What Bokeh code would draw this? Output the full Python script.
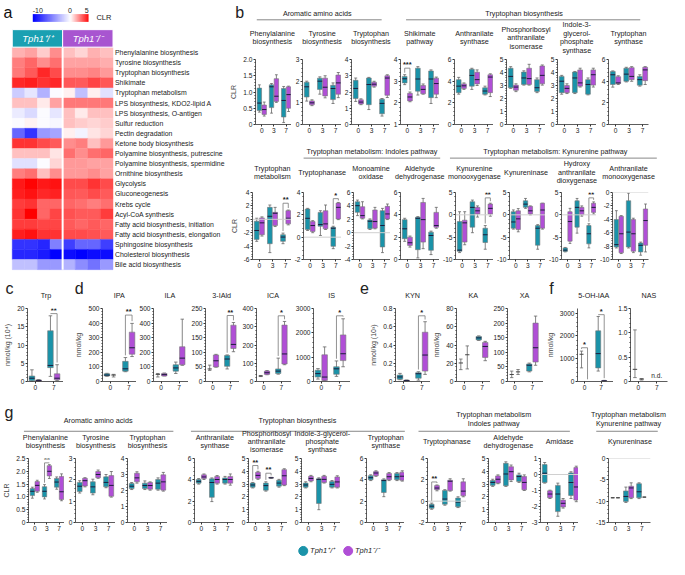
import numpy as np
from bokeh.plotting import figure
from bokeh.models import Range1d, FixedTicker, Span, Label, LinearColorMapper, ColumnDataSource
from bokeh.layouts import row, column
from bokeh.embed import file_html
from bokeh.resources import INLINE
from bokeh.core.properties import value

# ======================= DATA =======================
# ---- panel a: heatmap (CLR) ----
HM_ROWS = ["Phenylalanine  biosynthesis", "Tyrosine biosynthesis", "Tryptophan biosynthesis", "Shikimate",
           "Tryptophan metabolism", "LPS biosynthesis, KDO2-lipid A", "LPS biosynthesis, O-antigen",
           "Sulfur reduction", "Pectin degradation", "Ketone body biosynthesis",
           "Polyamine biosynthesis, putrescine", "Polyamine biosynthesis, spermidine", "Ornithine biosynthesis",
           "Glycolysis", "Gluconeogenesis", "Krebs cycle", "Acyl-CoA synthesis",
           "Fatty acid biosynthesis, initiation", "Fatty acid biosynthesis, elongation",
           "Sphingosine biosynthesis", "Cholesterol biosynthesis", "Bile acid biosynthesis"]
HM_WT = [[1.5, 1.8, 1.0, 2.2], [2.5, 3.0, 2.2, 2.8], [2.6, 3.2, 4.2, 3.5], [4.2, 4.4, 4.0, 4.2],
         [-2.0, -1.0, -3.0, -0.2], [1.2, 1.2, 0.4, 1.8], [-0.8, -1.5, -0.2, -1.0], [-0.2, 0.2, -0.2, -0.3],
         [-6.0, -8.0, -4.0, -3.5], [4.0, 4.0, 3.5, 3.2], [1.2, 1.2, 1.2, 0.5], [-1.2, -1.2, -0.1, 0.8],
         [2.5, 2.8, 1.2, 2.2], [4.5, 4.9, 4.5, 4.6], [4.4, 4.6, 4.2, 4.3], [3.8, 4.0, 3.0, 3.0],
         [4.0, 5.0, 3.0, 3.6], [3.8, 3.8, 3.6, 3.6], [4.4, 4.6, 4.0, 4.0],
         [-8.0, -8.0, -8.5, -5.0], [-8.5, -8.5, -9.0, -10.0], [-2.5, -2.5, -4.0, -4.0]]
HM_KO = [[1.2, 0.8, 1.5, 1.2], [1.8, 1.8, 1.8, 1.6], [2.2, 2.2, 2.4, 2.0], [3.3, 3.2, 3.6, 3.3],
         [0.3, -2.5, 0.3, -1.2], [2.6, 2.6, 2.6, 2.6], [1.2, 0.4, 1.2, 1.2], [1.2, 1.0, 0.8, 1.0],
         [0.3, -0.5, 0.5, 0.8], [2.2, 2.5, 1.2, 2.0], [2.8, 2.2, 2.8, 3.0], [2.0, 2.0, 1.8, 1.8],
         [2.0, 2.0, 2.2, 1.8], [3.5, 3.5, 4.0, 3.5], [3.3, 3.2, 3.5, 3.2], [3.0, 2.8, 2.5, 2.8],
         [3.4, 3.2, 3.2, 3.8], [3.2, 3.0, 3.2, 3.0], [3.5, 3.5, 3.4, 3.2],
         [-7.5, -6.0, -6.0, -7.5], [-9.5, -10.0, -9.5, -9.5], [-3.0, -4.5, -5.5, -4.0]]
CLR_TICKS = [-10, 0, 5]
GENOTYPES = ["Tph1\u207a/\u207a", "Tph1\u207b/\u207b"]

DPI3 = ["0", "3", "7"]
DPI2 = ["0", "7"]

# box stats per panel: (low whisker, q1, median, q3, high whisker) in order
# d0 WT, d0 KO, d3 WT, d3 KO, d7 WT, d7 KO   (q1 == q3 -> whiskers only)
B1 = [
    dict(title="Phenylalanine\nbiosynthesis", yr=(0, 2), yt=[0, 0.5, 1, 1.5, 2], ylabel="CLR",
         stats=[(0.38, 0.43, 0.66, 1.12, 1.22), (0.26, 0.31, 0.46, 0.60, 0.69), (0.35, 0.52, 1.16, 1.22, 1.26),
                (0.68, 0.71, 0.87, 1.41, 1.53), (0.06, 0.23, 0.74, 1.11, 1.17), (0.40, 0.50, 0.92, 1.16, 1.18)], sig=[]),
    dict(title="Tyrosine\nbiosynthesis", yr=(0, 3), yt=[0, 1, 2, 3],
         stats=[(1.08, 1.27, 1.74, 1.95, 2.0), (0.87, 0.91, 1.0, 1.09, 1.14), (1.40, 1.62, 2.0, 2.14, 2.20),
                (1.23, 1.32, 1.72, 2.14, 2.25), (0.97, 1.15, 1.66, 1.81, 1.92), (1.24, 1.40, 1.92, 2.28, 2.40)], sig=[]),
    dict(title="Tryptophan\nbiosynthesis", yr=(0, 4), yt=[0, 1, 2, 3, 4],
         stats=[(1.42, 1.60, 2.22, 2.72, 2.86), (1.22, 1.26, 1.38, 1.52, 1.58), (0.92, 1.22, 2.46, 2.86, 2.90),
                (2.30, 2.36, 2.48, 2.60, 2.66), (0.52, 0.66, 1.30, 1.56, 1.60), (1.66, 1.80, 2.86, 3.00, 3.06)], sig=[]),
    dict(title="Shikimate\npathway", yr=(1, 4), yt=[1, 2, 3, 4],
         stats=[(2.84, 2.92, 3.11, 3.22, 3.30), (2.05, 2.09, 2.27, 2.44, 2.50), (2.36, 2.54, 3.10, 3.60, 3.67),
                (2.40, 2.42, 2.62, 2.80, 2.87), (1.97, 2.24, 3.10, 3.47, 3.52), (2.24, 2.40, 2.89, 3.14, 3.19)],
         sig=[(0, 3.6, "***")]),
    dict(title="Anthranilate\nsynthase", yr=(0, 6), yt=[0, 2, 4, 6],
         stats=[(2.80, 2.94, 3.54, 4.14, 4.35), (3.24, 3.33, 3.57, 3.75, 3.84), (3.24, 3.54, 4.53, 5.10, 5.19),
                (3.60, 3.75, 4.14, 4.83, 5.04), (2.73, 2.79, 3.09, 3.39, 3.54), (2.58, 2.94, 4.38, 4.59, 4.68)], sig=[]),
    dict(title="Phosphoribosyl\nanthranilate\nisomerase", yr=(0, 5), yt=[0, 1, 2, 3, 4, 5],
         stats=[(2.78, 2.83, 3.70, 4.33, 4.45), (2.53, 2.63, 2.88, 3.03, 3.13), (3.03, 3.08, 3.58, 4.03, 4.13),
                (3.03, 3.08, 3.53, 4.33, 4.63), (2.45, 2.53, 2.83, 3.45, 3.58), (3.03, 3.13, 3.78, 4.50, 4.58)], sig=[]),
    dict(title="Indole-3-\nglycerol-\nphosphate\nsynthase", yr=(0, 5), yt=[0, 1, 2, 3, 4, 5],
         stats=[(2.33, 2.45, 3.33, 3.70, 3.78), (2.38, 2.45, 2.78, 3.00, 3.13), (2.38, 2.45, 3.58, 4.03, 4.08),
                (2.88, 2.95, 3.20, 4.20, 4.33), (2.28, 2.33, 3.08, 3.45, 3.58), (2.88, 3.03, 3.83, 4.20, 4.33)], sig=[]),
    dict(title="Tryptophan\nsynthase", yr=(0, 6), yt=[0, 2, 4, 6],
         stats=[(3.45, 3.69, 4.59, 4.89, 4.95), (3.69, 3.78, 3.84, 4.41, 4.50), (3.93, 3.99, 4.65, 5.19, 5.28),
                (3.99, 4.14, 4.44, 5.25, 5.34), (3.54, 3.63, 4.14, 4.44, 4.59), (3.69, 4.05, 5.04, 5.28, 5.34)], sig=[]),
]
B2 = [
    dict(title="Tryptophan\nmetabolism", yr=(-6, 4), yt=[-6, -4, -2, 0, 2, 4], ylabel="CLR",
         stats=[(-3.29, -3.0, -1.67, -0.29, 0.16), (-2.5, -2.3, -0.53, 0.21, 0.36), (-4.97, -3.64, 0.45, 1.78, 2.13),
                (-1.08, -0.93, 0.9, 1.04, 1.78), (-3.64, -3.29, -2.65, -2.3, -2.06), (-0.83, -0.68, 0.16, 1.29, 1.38)],
         sig=[(2, 2.4, "**")]),
    dict(title="Tryptophanase", yr=(-2, 4), yt=[-2, 0, 2, 4],
         stats=[(0.6, 0.69, 1.69, 2.52, 2.58), (0.4, 0.51, 1.04, 1.4, 1.48), (0.15, 0.98, 1.13, 2.22, 2.37),
                (0.69, 0.75, 1.19, 2.37, 2.88), (-1.03, -0.82, 0.8, 0.89, 0.98), (1.57, 1.63, 2.67, 3.05, 3.11)],
         sig=[(2, 3.45, "*")]),
    dict(title="Monoamine\noxidase", yr=(-4, 6), yt=[-4, -2, 0, 2, 4, 6],
         stats=[(2.55, 3.04, 4.03, 4.62, 4.87), (2.06, 2.16, 2.55, 3.88, 4.62), (0.48, 0.58, 1.71, 1.91, 2.06),
                (0.58, 0.68, 1.66, 3.39, 3.78), (-2.97, -2.13, 1.07, 3.29, 3.63), (1.96, 2.06, 2.8, 3.93, 4.28)], sig=[]),
    dict(title="Aldehyde\ndehydrogenase", yr=(0, 6), yt=[0, 2, 4, 6],
         stats=[(1.63, 1.86, 2.75, 3.57, 3.69), (1.11, 1.26, 1.5, 2.0, 2.1), (0.14, 0.88, 3.69, 3.78, 3.84),
                (0.97, 1.56, 3.57, 5.11, 5.47), (0.44, 0.82, 2.15, 2.45, 2.54), (2.8, 2.89, 3.04, 4.22, 4.67)], sig=[]),
    dict(title="Kynurenine\nmonooxygenase", yr=(-10, 5), yt=[-10, -5, 0, 5],
         stats=[(-8.45, -8.16, -7.9, -1.5, 0.7), (-6.7, -6.1, -1.8, -1.2, 0.7), (-4.0, -2.76, 1.67, 2.93, 3.3),
                (-0.5, 0.2, 0.9, 1.67, 2.0), (-7.7, -6.2, -4.46, -3.0, -2.4), (-0.3, 0.2, 1.45, 2.4, 2.6)],
         sig=[(2, 3.8, "**")]),
    dict(title="Kynureninase", yr=(-10, 5), yt=[-10, -5, 0, 5],
         stats=[(-3.2, -3.0, -1.6, 0.7, 1.1), (-3.8, -3.3, -0.9, 0.9, 1.4), (1.45, 1.67, 2.4, 3.15, 3.67),
                (0.0, 0.2, 0.9, 1.9, 2.0), (-7.7, -6.8, -3.0, -2.4, -2.2), (-3.2, -3.0, 1.08, 2.6, 2.6)], sig=[]),
    dict(title="Hydroxy\nanthranilate\ndioxygenase", yr=(-10, 5), yt=[-10, -5, 0, 5],
         stats=[(-8.3, -8.2, -7.9, -7.4, -7.3), (-6.4, -5.9, -1.5, 0.7, 1.45), (-4.1, -2.76, 1.67, 3.15, 3.67),
                (-0.3, 0.0, 0.9, 1.67, 2.0), (-7.4, -6.5, -4.24, -2.4, -2.0), (0.2, 0.55, 1.67, 2.6, 2.9)],
         sig=[(2, 3.8, "**")]),
    dict(title="Anthranilate\nmonooxygenase", yr=(-10, 0), yt=[-10, -8, -6, -4, -2, 0],
         stats=[(-8.28, -8.13, -7.78, -4.04, -2.71), (-9.11, -9.0, -6.16, -3.55, -3.45), (-8.28, -8.13, -5.91, -1.23, -0.1),
                (-8.97, -8.77, -6.16, -4.04, -3.84), (-9.36, -8.87, -7.88, -7.54, -7.4), (-8.87, -7.88, -4.19, -2.46, -1.72)],
         sig=[]),
]
# c-f: d0 WT, d0 KO, d7 WT, d7 KO
CF = [
    dict(title="Trp", yr=(0, 20), yt=[0, 5, 10, 15, 20], ylabel="nmol/kg (10\u2074)",
         stats=[(0.0, 0.2, 0.9, 1.5, 3.2), (0.0, 0.1, 0.3, 0.4, 0.5), (1.4, 3.8, 4.4, 13.9, 18.0), (0.3, 0.46, 0.9, 2.1, 4.6)],
         sig=[(1, 18.6, "**")]),
    dict(title="IPA", yr=(0, 500), yt=[0, 100, 200, 300, 400, 500], ylabel="nmol/kg",
         stats=[(36, 38, 44, 53, 56), (31, 44, 44, 44, 49), (67, 71, 87, 138, 164), (171, 187, 231, 338, 398)],
         sig=[(1, 455, "**")]),
    dict(title="ILA", yr=(0, 500), yt=[0, 100, 200, 300, 400, 500],
         stats=[(31, 49, 49, 49, 55), (38, 38, 47, 55, 58), (55, 71, 93, 115, 133), (111, 115, 160, 238, 427)], sig=[]),
    dict(title="3-IAld", yr=(0, 250), yt=[0, 50, 100, 150, 200, 250],
         stats=[(38, 43, 43, 43, 56), (49, 50, 71, 91, 93), (43, 52, 77, 89, 91), (102, 113, 127, 193, 202)],
         sig=[(1, 226, "**")]),
    dict(title="ICA", yr=(0, 400), yt=[0, 100, 200, 300, 400],
         stats=[(27, 30, 30, 30, 33), (37, 39, 48, 57, 60), (40, 44, 57, 69, 128), (92, 96, 151, 309, 329)],
         sig=[(1, 360, "*")]),
    dict(title="IS", yr=(0, 3000), yt=[0, 1000, 2000, 3000],
         stats=[(100, 183, 324, 465, 530), (42, 45, 183, 1098, 1422), (211, 296, 521, 606, 845), (606, 859, 1141, 1915, 2577)],
         sig=[(1, 2700, "*")]),
    dict(title="KYN", yr=(0, 0.8), yt=[0, 0.2, 0.4, 0.6, 0.8], ylabel="nmol/kg (10\u00b3)",
         stats=[(0.02, 0.025, 0.05, 0.071, 0.089), (0.005, 0.007, 0.01, 0.014, 0.016),
                (0.015, 0.036, 0.085, 0.096, 0.107), (0.078, 0.114, 0.29, 0.54, 0.655)],
         sig=[(1, 0.72, "*")]),
    dict(title="KA", yr=(0, 80), yt=[0, 20, 40, 60, 80], ylabel="nmol/kg",
         stats=[(13, 20.3, 20.3, 20.3, 24.6), (13.8, 29.3, 29.3, 29.3, 39), (45, 45.6, 47.8, 49.3, 50), (22.8, 26.4, 38.4, 42.8, 44)],
         sig=[]),
    dict(title="XA", yr=(0, 250), yt=[0, 50, 100, 150, 200, 250],
         stats=[(13.3, 24, 24, 24, 35.6), (24, 33, 33, 33, 41), (33, 35.6, 55.6, 60, 63), (55.6, 66.7, 115.6, 200, 224)],
         sig=[]),
    dict(title="5-OH-IAA", yr=(0, 3200), yt=[0, 1000, 2000, 3000], ylabel="nmol/kg",
         stats=[(597, 1194, 1194, 1194, 1333), None, (458, 597, 1222, 2222, 2850), (10, 20, 30, 40, 50)],
         sig=[(0, 1480, "*"), (1, 2930, "*")]),
    dict(title="NAS", yr=(0, 1.5), yt=[0, 0.5, 1.0, 1.5],
         stats=[(0.08, 0.25, 0.25, 0.25, 1.06), (0.03, 0.05, 0.05, 0.05, 0.06), None, None],
         sig=[], nd=1),
]
G = [
    dict(title="Phenylalanine\nbiosynthesis", yr=(0, 2.5), yt=[0, 0.5, 1.0, 1.5, 2.0, 2.5], ylabel="CLR",
         stats=[(0.95, 1.05, 1.22, 1.33, 1.38), (1.18, 1.22, 1.45, 1.6, 1.65), (0.92, 1.0, 1.22, 1.4, 1.48),
                (1.72, 1.82, 2.0, 2.22, 2.26), (1.3, 1.38, 1.58, 1.72, 1.78), (0.85, 0.9, 1.2, 1.8, 1.9)],
         sig=[(1, 2.33, "**")]),
    dict(title="Tyrosine\nbiosynthesis", yr=(0, 3), yt=[0, 1, 2, 3],
         stats=[(1.38, 1.45, 1.7, 1.88, 1.96), (1.67, 1.71, 1.96, 2.07, 2.1), (1.3, 1.38, 1.67, 1.91, 2.03),
                (2.07, 2.1, 2.25, 2.39, 2.46), (1.63, 1.67, 1.88, 2.14, 2.25), (1.19, 1.23, 1.74, 2.2, 2.39)], sig=[]),
    dict(title="Tryptophan\nbiosynthesis", yr=(0, 4), yt=[0, 1, 2, 3, 4],
         stats=[(2.06, 2.12, 2.27, 2.44, 2.5), (2.46, 2.54, 2.79, 3.08, 3.17), (2.06, 2.12, 2.31, 2.46, 2.6),
                (2.02, 2.08, 2.31, 2.5, 2.54), (2.02, 2.08, 2.46, 2.69, 2.79), (1.96, 2.02, 2.54, 2.98, 3.13)], sig=[]),
    dict(title="Anthranilate\nsynthase", yr=(0, 6), yt=[0, 2, 4, 6],
         stats=[(3.6, 3.69, 3.86, 4.03, 4.12), (4.03, 4.12, 4.27, 4.47, 4.55), (1.96, 2.36, 3.75, 4.09, 4.18),
                (3.6, 3.69, 4.03, 4.32, 4.4), (3.6, 3.69, 4.03, 4.18, 4.32), (3.5, 3.69, 4.03, 4.32, 4.55)], sig=[]),
    dict(title="Phosphoribosyl\nanthranilate\nisomerase", yr=(0, 5), yt=[0, 1, 2, 3, 4, 5],
         stats=[(2.7, 2.76, 2.93, 3.08, 3.13), (3.37, 3.44, 3.68, 3.92, 4.0), (2.45, 2.52, 2.88, 3.08, 3.18),
                (3.45, 3.47, 3.49, 3.51, 3.53), (2.76, 2.84, 3.08, 3.3, 3.37), (2.88, 2.93, 3.65, 4.13, 4.2)],
         sig=[(0, 4.45, "**"), (1, 3.85, "**")]),
    dict(title="Indole-3-glycerol-\nphosphate\nsynthase", yr=(0, 5), yt=[0, 1, 2, 3, 4, 5],
         stats=[(2.7, 2.76, 2.93, 3.08, 3.18), (3.18, 3.25, 3.44, 3.61, 3.68), (1.0, 1.49, 3.37, 3.41, 3.49),
                (3.08, 3.13, 3.37, 3.61, 3.68), (2.7, 2.76, 2.98, 3.2, 3.28), (2.7, 2.76, 3.17, 3.56, 3.65)], sig=[]),
    dict(title="Tryptophan\nsynthase", yr=(0, 6), yt=[0, 2, 4, 6],
         stats=[(3.93, 4.01, 4.2, 4.39, 4.47), (4.33, 4.39, 4.64, 4.77, 4.85), (2.42, 2.81, 3.93, 4.01, 4.09),
                (3.93, 4.01, 4.29, 4.6, 4.68), (3.93, 4.01, 4.29, 4.6, 4.68), (3.88, 3.95, 4.34, 4.72, 4.85)], sig=[]),
    dict(title="Tryptophanase", yr=(-2, 4), yt=[-2, 0, 2, 4],
         stats=[(-0.76, -0.67, -0.47, -0.29, -0.18), (0.97, 1.08, 1.23, 1.46, 1.52), (-0.38, -0.29, 0.2, 1.0, 1.08),
                (0.94, 1.0, 1.87, 1.96, 2.1), (-0.6, -0.53, -0.09, 0.29, 0.41), (0.41, 0.5, 0.94, 1.81, 2.1)],
         sig=[(0, 1.8, "**")]),
    dict(title="Aldehyde\ndehydrogenase", yr=(0, 5), yt=[0, 1, 2, 3, 4, 5],
         stats=[(2.82, 2.9, 3.13, 3.28, 3.38), (3.03, 3.08, 3.38, 3.64, 3.72), (2.82, 2.87, 3.79, 4.62, 4.74),
                (3.2, 3.33, 3.97, 4.36, 4.49), (3.13, 3.2, 3.59, 3.72, 3.85), (2.5, 2.56, 3.13, 3.59, 3.72)], sig=[]),
    dict(title="Amidase", yr=(-3, 1), yt=[-3, -2, -1, 0, 1],
         stats=[(-0.54, -0.5, 0.08, 0.62, 0.75), (-1.5, -1.45, -1.22, -1.02, -0.98), (-2.61, -2.32, -1.22, -0.68, -0.54),
                (-2.1, -2.03, -1.8, -1.6, -1.5), (-1.5, -1.31, -0.5, 0.1, 0.17), (-1.7, -1.6, -0.78, 0.43, 0.52)], sig=[]),
    dict(title="Kynureninase", yr=(-15, 0), yt=[-15, -10, -5, 0],
         stats=[(-9.2, -9.2, -9.2, -9.2, -9.2), (-9.2, -9.2, -9.2, -9.2, -9.2), (-10.3, -10.1, -8.9, -7.6, -6.7),
                (-9.4, -9.2, -6.9, -6.5, -5.7), (-9.4, -9.2, -7.8, -5.9, -5.7), (-9.05, -9.05, -9.05, -9.05, -9.05)], sig=[]),
]

# ======================= LAYOUT / STYLE =======================
REF_W, REF_H = 685, 575
OUT_W, OUT_H = 669, 559
SX, SY = OUT_W / REF_W, OUT_H / REF_H
def X(v): return int(round(v * SX))
def Y(v): return int(round(v * SY))

FONT = "Liberation Sans"
TEAL = "#1a93a9"
PURPLE = "#b04fd6"
HDR_TEAL = "#1aa0b2"
HDR_PURPLE = "#a855d0"
AXC = "#333333"
WHISK = "#666666"
EDGE = "#777777"
MED = "#1c1c3c"
SIGC = "#777777"
TFS = "7.2px"

def base_fig(w, h, xr, yr, **kw):
    p = figure(width=w, height=h, x_range=xr, y_range=yr, output_backend="svg", toolbar_location=None,
               title=None, **kw)
    p.grid.visible = False
    p.outline_line_color = None
    p.background_fill_color = "white"
    p.border_fill_color = "white"
    return p

def header(x0, x1, y0, y1):
    p = base_fig(X(x1) - X(x0), Y(y1) - Y(y0), Range1d(x0, x1), Range1d(y1, y0),
                 x_axis_location=None, y_axis_location=None, min_border=0)
    return p

def htext(p, x, y, t, size=TFS, align="center", baseline="middle", style="normal", color="#222222", step=8.6):
    lines = t.split("\n")
    n = len(lines)
    ys = [y + (i - (n - 1) / 2) * step for i in range(n)]
    p.text(x=[x] * n, y=ys, text=lines, text_font=value(FONT), text_font_size=size, text_align=align,
           text_baseline=baseline, text_font_style=style, text_color=color)

def tick_labels(ticks):
    dec = any(abs(t - round(t)) > 1e-9 for t in ticks)
    out = {}
    for t in ticks:
        if abs(t) < 1e-12:
            out[t] = "0"
        elif dec:
            out[t] = f"{t:.1f}"
        else:
            out[t] = f"{int(round(t))}"
    return out

def minors(ticks, k=5):
    m = []
    for a, b in zip(ticks[:-1], ticks[1:]):
        m += [float(v) for v in np.linspace(a, b, k + 1)[1:-1]]
    return m

def box_panel(spec, fl, fr, gl, gr, ft, fb, gt, gb, labels, first_px, step_px, bw, off, dpi_dx=None):
    x0 = -first_px / step_px
    x1 = x0 + (fr - fl) / step_px
    ylo, yhi = spec["yr"]
    p = base_fig(X(gr) - X(gl), Y(gb) - Y(gt), Range1d(x0, x1), Range1d(ylo, yhi),
                 min_border_left=X(fl) - X(gl), min_border_right=X(gr) - X(fr),
                 min_border_top=Y(ft) - Y(gt), min_border_bottom=Y(gb) - Y(fb))
    n = len(labels)
    for ax in (p.xaxis[0], p.yaxis[0]):
        ax.axis_line_color = AXC
        ax.axis_line_width = 0.8
        ax.major_tick_line_color = AXC
        ax.major_tick_in = 0
        ax.major_tick_out = 2
        ax.minor_tick_line_color = AXC
        ax.minor_tick_in = 0
        ax.minor_tick_out = 1
        ax.major_label_text_font = FONT
        ax.major_label_text_font_size = "6.6px"
        ax.major_label_text_color = "#222222"
        ax.major_label_standoff = 1
    p.xaxis.ticker = FixedTicker(ticks=list(range(n)))
    p.xaxis.major_label_overrides = {i: l for i, l in enumerate(labels)}
    p.xaxis.minor_tick_line_color = None
    yt = spec["yt"]
    p.yaxis.ticker = FixedTicker(ticks=yt, minor_ticks=minors(yt))
    p.yaxis.major_label_overrides = tick_labels(yt)
    if spec.get("ylabel"):
        p.yaxis.axis_label = spec["ylabel"]
        p.yaxis.axis_label_text_font = FONT
        p.yaxis.axis_label_text_font_size = "7px"
        p.yaxis.axis_label_text_font_style = "normal"
        p.yaxis.axis_label_standoff = 3
    if ylo < 0 <= yhi:
        p.add_layout(Span(location=0, dimension="width", line_color="#d0d0d0", line_width=1))
    # boxes
    xs, lo, q1, md, q3, hi, cols = [], [], [], [], [], [], []
    for i, s in enumerate(spec["stats"]):
        if s is None:
            continue
        g, k = divmod(i, 2)
        xs.append(g + (off if k else -off))
        lo.append(s[0]); q1.append(s[1]); md.append(s[2]); q3.append(s[3]); hi.append(s[4])
        cols.append(PURPLE if k else TEAL)
    xs = np.array(xs); cw = bw * 0.32
    src = ColumnDataSource(dict(x=xs, lo=lo, hi=hi, cl=xs - cw, cr=xs + cw))
    p.segment(x0="x", y0="lo", x1="x", y1="hi", source=src, line_color=WHISK, line_width=0.8)
    p.segment(x0="cl", y0="hi", x1="cr", y1="hi", source=src, line_color=WHISK, line_width=0.8)
    p.segment(x0="cl", y0="lo", x1="cr", y1="lo", source=src, line_color=WHISK, line_width=0.8)
    boxed = [i for i in range(len(xs)) if q3[i] > q1[i]]
    flat = [i for i in range(len(xs)) if q3[i] <= q1[i]]
    bsrc = ColumnDataSource(dict(x=xs[boxed], q1=[q1[i] for i in boxed], q3=[q3[i] for i in boxed],
                                 md=[md[i] for i in boxed], c=[cols[i] for i in boxed],
                                 ml=xs[boxed] - bw / 2, mr=xs[boxed] + bw / 2))
    p.vbar(x="x", width=bw, top="q3", bottom="q1", source=bsrc, fill_color="c", line_color=EDGE, line_width=0.6)
    p.segment(x0="ml", y0="md", x1="mr", y1="md", source=bsrc, line_color=MED, line_width=1.0)
    if flat:
        fsrc = ColumnDataSource(dict(ml=xs[flat] - bw * 0.4, mr=xs[flat] + bw * 0.4, md=[md[i] for i in flat]))
        p.segment(x0="ml", y0="md", x1="mr", y1="md", source=fsrc, line_color="#444444", line_width=1.0)
    # significance brackets
    rng = yhi - ylo
    for (g, ys, lab) in spec.get("sig", []):
        il, ir = 2 * g, 2 * g + 1
        sl, sr = spec["stats"][il], spec["stats"][ir]
        xl, xr = g - off, g + off
        yl = min((sl[4] if sl else ylo) + 0.03 * rng, ys)
        yr_ = min((sr[4] if sr else ylo) + 0.03 * rng, ys)
        p.segment(x0=[xl, xl, xr], y0=[yl, ys, yr_], x1=[xl, xr, xr], y1=[ys, ys, ys],
                  line_color=SIGC, line_width=0.8)
        p.add_layout(Label(x=g, y=ys, text=lab, text_font=FONT, text_font_size="7.5px", text_align="center",
                           text_baseline="bottom", text_color="#222222", text_font_style="bold", y_offset=-1))
    if spec.get("nd") is not None:
        p.text(x=[spec["nd"]], y=[ylo + 0.03 * rng], text=["n.d."], text_font=value(FONT), text_font_size="6.6px",
               text_align="center", text_baseline="bottom", text_color="#222222")
    if dpi_dx is not None:
        p.add_layout(Label(x=dpi_dx, y=-3, x_units="screen", y_units="screen", text="dpi",
                           text_font=FONT, text_font_size="6.6px", text_align="right", text_baseline="top",
                           text_color="#222222"))
    return p

def panel_row(specs, axes, widths, band_l, band_r, ft, fb, gt, gb, labels, first_px, step_px, bw, off, dpi_dx):
    figs = []
    left = band_l
    for i, spec in enumerate(specs):
        fl = axes[i]; fr = axes[i] + widths[i]
        right = band_r if i == len(specs) - 1 else fr
        figs.append(box_panel(spec, fl, fr, left, right, ft, fb, gt, gb, labels, first_px, step_px, bw, off,
                              dpi_dx if i == 0 else None))
        left = right
    return row(*figs, spacing=0)

# ======================= PANEL a (heatmap) =======================
def clr_palette(n=256, lo=-10, hi=5):
    pal = []
    for v in np.linspace(lo, hi, n):
        if v < 0:
            t = v / lo
            r = g = int(round(255 * (1 - t))); b = 255
        else:
            t = v / hi
            r = 255; g = b = int(round(255 * (1 - t)))
        pal.append(f"#{r:02x}{g:02x}{b:02x}")
    return pal

mapper = LinearColorMapper(palette=clr_palette(), low=-10, high=5)
CW, RH = 12.875, 10.39
def hx(v): return (v - 12) / CW
def hy(v): return (277 - v) / RH

pa = base_fig(X(232), Y(283), Range1d(hx(0), hx(232)), Range1d(hy(283), hy(0)),
              x_axis_location=None, y_axis_location=None, min_border=0)
nrow = len(HM_ROWS)
cx, cy, cv = [], [], []
for r in range(nrow):
    vals = HM_WT[r] + HM_KO[r]
    for c, v in enumerate(vals):
        cx.append(c + 0.5); cy.append(nrow - 1 - r + 0.5); cv.append(v)
hsrc = ColumnDataSource(dict(x=cx, y=cy, v=cv))
pa.rect(x="x", y="y", width=1, height=1, source=hsrc,
        fill_color={"field": "v", "transform": mapper}, line_color={"field": "v", "transform": mapper}, line_width=0.4)
pa.segment(x0=[4], y0=[0], x1=[4], y1=[hy(30)], line_color="white", line_width=2)
hy_mid = (hy(30) + hy(48)) / 2
pa.rect(x=[2, 6], y=[hy_mid, hy_mid], width=4, height=hy(30) - hy(48), fill_color=[HDR_TEAL, HDR_PURPLE],
        line_color="white", line_width=1)
pa.text(x=[2, 6], y=[hy_mid, hy_mid], text=GENOTYPES, text_font=value(FONT), text_font_size="9.5px",
        text_font_style="italic", text_color="white", text_align="center", text_baseline="middle")
pa.image(image=[np.linspace(-10, 5, 256)[None, :]], x=hx(33), y=hy(22), dw=hx(90) - hx(33), dh=hy(14) - hy(22),
         color_mapper=mapper)
cb_x = [hx(33 + 57 * (t + 10) / 15) for t in CLR_TICKS]
pa.text(x=cb_x, y=[hy(13)] * 3, text=[str(t) for t in CLR_TICKS], text_font=value(FONT), text_font_size="7px",
        text_align=["left", "center", "right"], text_baseline="bottom", text_color="#222222")
pa.text(x=[hx(98)], y=[hy(18)], text=["CLR"], text_font=value(FONT), text_font_size="7.5px",
        text_align="left", text_baseline="middle", text_color="#222222")
pa.text(x=[hx(3)], y=[hy(12)], text=["a"], text_font=value(FONT), text_font_size="16px",
        text_align="left", text_baseline="middle", text_color="#111111")
pa.text(x=[hx(117)] * nrow, y=[nrow - 1 - r + 0.5 for r in range(nrow)], text=HM_ROWS, text_font=value(FONT),
        text_font_size="6.9px", text_align="left", text_baseline="middle", text_color="#222222")

# ======================= PANEL b =======================
B_AXES = [258, 309, 359, 409, 465, 518, 570, 623]
B_W = [40] * 8
hb1 = header(232, 685, 0, 57)
htext(hb1, 240, 12, "b", size="16px", align="left")
for t, cxp, ty, l0, l1, ly in [("Aromatic amino acids", 324, 13, 262, 390, 20),
                                ("Tryptophan biosynthesis", 536, 13, 415, 655, 20)]:
    htext(hb1, cxp, ty, t)
    hb1.segment(x0=[l0], y0=[ly], x1=[l1], y1=[ly], line_color="#888888", line_width=1)
for i, s in enumerate(B1):
    htext(hb1, B_AXES[i] + B_W[i] / 2, 38.5, s["title"], step=8.8)
rb1 = panel_row(B1, B_AXES, B_W, 232, 685, 61, 128, 57, 142, DPI3, 7, 13.5, 0.36, 0.2, -3)

hb2 = header(232, 685, 142, 194)
for t, cxp, ty, l0, l1, ly in [("Tryptophan metabolism: Indoles pathway", 380, 155, 310, 450, 162),
                                ("Tryptophan metabolism: Kynurenine pathway", 568, 155, 460, 672, 162)]:
    htext(hb2, cxp, ty, t)
    hb2.segment(x0=[l0], y0=[ly], x1=[l1], y1=[ly], line_color="#888888", line_width=1)
for i, s in enumerate(B2):
    htext(hb2, B_AXES[i] + B_W[i] / 2, 176.5, s["title"], step=8.8)
rb2 = panel_row(B2, B_AXES, B_W, 232, 685, 198, 266, 194, 283, DPI3, 7, 13.5, 0.36, 0.2, -3)

band_a = row(pa, column(hb1, rb1, hb2, rb2, spacing=0), spacing=0)

# ======================= PANELS c-f =======================
CF_AXES = [28, 104, 155, 208, 260, 320, 404, 466, 517, 587, 645]
CF_W = [37, 35, 37, 37, 38, 38, 36, 36, 39, 41, 38]
hcf = header(0, 685, 283, 310)
for letter, lx in [("c", 5), ("d", 76), ("e", 368), ("f", 562)]:
    htext(hcf, lx, 296, letter, size="16px", align="left")
for i, s in enumerate(CF):
    htext(hcf, CF_AXES[i] + CF_W[i] / 2, 304, s["title"])
rcf = panel_row(CF, CF_AXES, CF_W, 0, 685, 317, 392, 310, 405, DPI2, 8, 19, 0.3, 0.18, -13)

# ======================= PANEL g =======================
G_AXES = [26, 77, 130, 199, 254, 308, 375, 437, 500, 553, 623]
G_W = [40, 41, 41, 41, 40, 40, 39, 40, 40, 39, 43]
hg = header(0, 685, 405, 467)
htext(hg, 4, 424, "g", size="16px", align="left")
for t, cxp, ty, l0, l1, ly in [("Aromatic amino acids", 100, 432, 24, 177, 443),
                                ("Tryptophan biosynthesis", 304, 432, 195, 414, 443),
                                ("Tryptophan metabolism\nIndoles pathway", 505, 430.5, 428, 583, 443),
                                ("Tryptophan metabolism\nKynurenine pathway", 643, 430.5, 610, 673, 443)]:
    htext(hg, cxp, ty, t, step=9)
    hg.segment(x0=[l0], y0=[ly], x1=[l1], y1=[ly], line_color="#888888", line_width=1)
G_TX = [0, 0, 0, 0, -1.5, 1.5, 0, 0, 0, 0, 0]
for i, s in enumerate(G):
    htext(hg, G_AXES[i] + G_W[i] / 2 + G_TX[i], 453.5, s["title"], step=8.0)
rg = panel_row(G, G_AXES, G_W, 0, 685, 471, 537, 467, 555, DPI3, 7, 13.5, 0.36, 0.2, -11)

# legend
hl = header(0, 685, 555, 575)
hl.scatter(x=[310, 356], y=[566, 566], size=9, fill_color=[TEAL, PURPLE], line_color=[TEAL, PURPLE])
for lx, t in [(317, GENOTYPES[0]), (363, GENOTYPES[1])]:
    htext(hl, lx, 566, t, size="7.5px", align="left", style="italic")

layout = column(band_a, hcf, rcf, hg, rg, hl, spacing=0)
open("out.html", "w").write(file_html(layout, INLINE))
